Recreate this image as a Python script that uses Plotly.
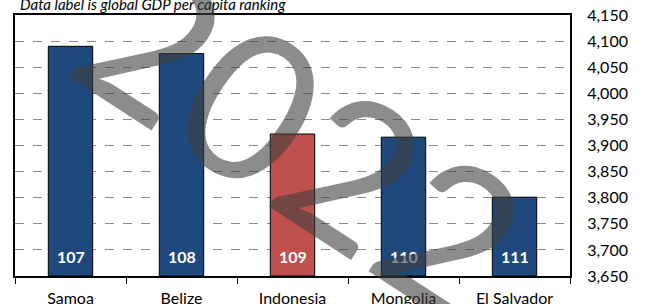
import plotly.graph_objects as go

countries = ["Samoa", "Belize", "Indonesia", "Mongolia", "El Salvador"]
gdp_values = [4090, 4076, 3922, 3916, 3801]
rankings = ["107", "108", "109", "110", "111"]
bar_colors = ["#1F497D", "#1F497D", "#C0504D", "#1F497D", "#1F497D"]
y_ticks = [3650, 3700, 3750, 3800, 3850, 3900, 3950, 4000, 4050, 4100, 4150]
axis_min = 3650

FONT = "Lato"

fig = go.Figure()
fig.add_trace(go.Bar(
    x=countries, y=[v - axis_min for v in gdp_values], base=axis_min,
    marker=dict(color=bar_colors, line=dict(color="black", width=1)),
    width=0.4, hoverinfo="skip",
))

for c, r in zip(countries, rankings):
    fig.add_annotation(
        text=f"<b>{r}</b>", x=c, y=axis_min, xref="x", yref="y",
        xanchor="center", yanchor="bottom", yshift=8, showarrow=False,
        font=dict(family=FONT, size=16, color="white"),
    )

fig.update_layout(
    width=649, height=304, autosize=False,
    margin=dict(l=15, r=79, t=15, b=28, autoexpand=False),
    plot_bgcolor="white", paper_bgcolor="white",
    showlegend=False,
    font=dict(family=FONT, size=14, color="black"),
)
fig.update_xaxes(
    showline=True, linecolor="black", linewidth=2, mirror=True,
    ticks="outside", tickson="boundaries", ticklen=6, tickcolor="black",
    tickfont=dict(family=FONT, size=16), showgrid=False,
    ticklabelstandoff=7,
)
fig.update_yaxes(
    side="right", range=[3650, 4150], tickvals=y_ticks,
    ticktext=[f"{v:,}" for v in y_ticks],
    showline=True, linecolor="black", linewidth=2, mirror=True,
    showgrid=True, gridcolor="#8a8a8a", griddash="dash", gridwidth=1,
    ticks="", ticklabelstandoff=12,
    tickfont=dict(family=FONT, size=16), zeroline=False,
)

fig.add_annotation(
    text="<i>Data label is global GDP per capita ranking</i>",
    xref="paper", yref="paper", x=0.005, y=1.0,
    xanchor="left", yanchor="bottom", showarrow=False,
    font=dict(family=FONT, size=15, color="black"),
)
fig.add_annotation(
    text="2022",
    xref="paper", yref="paper", x=(304 - 15) / 555, y=1 - (135 - 15) / 261,
    xanchor="center", yanchor="middle", showarrow=False,
    textangle=33,
    font=dict(family="Lato", size=205, color="rgba(64,64,64,0.6)"),
)

fig.write_html(
    "out.html",
    config={"displayModeBar": False},
    post_script="document.body.style.margin='0px';document.body.style.padding='0px';",
)
